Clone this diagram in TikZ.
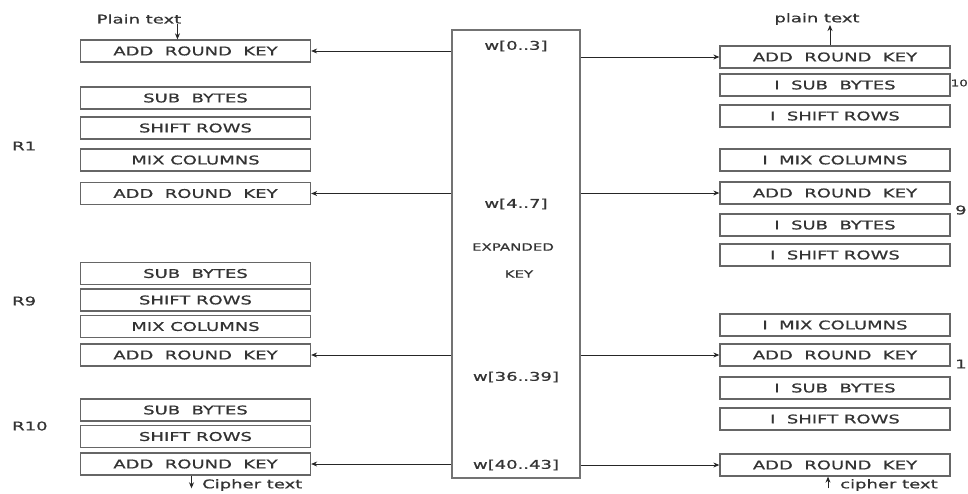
\documentclass[tikz,border=0pt]{standalone}
\usepackage{fontspec}
\setmainfont{DejaVu Sans}[FakeStretch=1.5, FakeBold=0.8]
\usetikzlibrary{arrows.meta, positioning}

\begin{document}
\begin{tikzpicture}[x=1pt, y=-1pt,
  stage/.style={draw=black!60, line width=1.3pt, rectangle, minimum width=230pt, minimum height=22pt, inner sep=0pt, font=\fontsize{12}{12}\selectfont, text=black!80},
  keybox/.style={draw=black!55, line width=1.6pt, rectangle, minimum width=128pt, minimum height=448pt, inner sep=0pt},
  lbl/.style={inner sep=0pt, font=\fontsize{12}{12}\selectfont, text=black!80},
  small/.style={inner sep=0pt, font=\fontsize{10}{10}\selectfont, text=black!80},
  arr/.style={-{Stealth[length=6pt, width=5pt]}, black!85, line width=0.9pt}
]
\useasboundingbox (0,0) rectangle (968,493);

% Expanded key
\node[keybox] (key) at (516, 254) {};
\node[lbl] (w0) at (516, 46) {w[0..3]};
\node[lbl] (w4) at (516, 204) {w[4..7]};
\node[small] (exp) at (513, 247) {EXPANDED};
\node[small] (kk) at (519, 274) {KEY};
\node[lbl] (w36) at (516, 377) {w[36..39]};
\node[lbl] (w40) at (516, 465) {w[40..43]};

% Encryption
\node[stage] (l1) at (195.5, 51) {ADD~ ROUND~ KEY};
\node[stage] (l2) at (195.5, 98) {SUB~ BYTES};
\node[stage] (l3) at (195.5, 128) {SHIFT ROWS};
\node[stage] (l4) at (195.5, 160) {MIX COLUMNS};
\node[stage] (l5) at (195.5, 193.5) {ADD~ ROUND~ KEY};
\node[stage] (l6) at (195.5, 273.5) {SUB~ BYTES};
\node[stage] (l7) at (195.5, 300) {SHIFT ROWS};
\node[stage] (l8) at (195.5, 326.5) {MIX COLUMNS};
\node[stage] (l9) at (195.5, 355) {ADD~ ROUND~ KEY};
\node[stage] (l10) at (195.5, 410) {SUB~ BYTES};
\node[stage] (l11) at (195.5, 436.5) {SHIFT ROWS};
\node[stage] (l12) at (195.5, 464) {ADD~ ROUND~ KEY};

\node[lbl, anchor=west] (r1) at (12, 146) {R1};
\node[lbl, anchor=west] (r9) at (12, 301) {R9};
\node[lbl, anchor=west] (r10) at (12, 426) {R10};

\node[lbl] (pt) at (139, 19) {Plain text};
\node[lbl, anchor=west] (ct) at (202, 485) {Cipher text};

% Decryption
\node[stage] (d1) at (835, 57) {ADD~ ROUND~ KEY};
\node[stage] (d2) at (835, 85) {I~ SUB~ BYTES};
\node[stage] (d3) at (835, 116) {I~ SHIFT ROWS};
\node[stage] (d4) at (835, 160) {I~ MIX COLUMNS};
\node[stage] (d5) at (835, 193) {ADD~ ROUND~ KEY};
\node[stage] (d6) at (835, 225) {I~ SUB~ BYTES};
\node[stage] (d7) at (835, 255) {I~ SHIFT ROWS};
\node[stage] (d8) at (835, 325) {I~ MIX COLUMNS};
\node[stage] (d9) at (835, 355) {ADD~ ROUND~ KEY};
\node[stage] (d10) at (835, 388) {I~ SUB~ BYTES};
\node[stage] (d11) at (835, 419) {I~ SHIFT ROWS};
\node[stage] (d12) at (835, 465) {ADD~ ROUND~ KEY};

\node[small, font=\fontsize{9}{9}\selectfont, anchor=west] (n10) at (950.5, 83) {10};
\node[lbl, anchor=west] (n9) at (955, 210) {9};
\node[lbl, anchor=west] (n1) at (955, 364) {1};

\node[lbl] (ptr) at (817, 19) {plain text};
\node[lbl, anchor=west] (ctr) at (840, 485) {cipher text};

% Arrows
\draw[arr] (key.west |- l1) -- (l1.east);
\draw[arr] (key.west |- l5) -- (l5.east);
\draw[arr] (key.west |- l9) -- (l9.east);
\draw[arr] (key.west |- l12) -- (l12.east);
\draw[arr] (key.east |- d1) -- (d1.west);
\draw[arr] (key.east |- d5) -- (d5.west);
\draw[arr] (key.east |- d9) -- (d9.west);
\draw[arr] (key.east |- d12) -- (d12.west);

\draw[arr] ([xshift=-4pt]pt.south east) -- ([xshift=-4pt]pt.south east |- l1.north);
\draw[arr] ([xshift=-4pt]l12.south) -- ([xshift=-4pt]l12.south |- ct.base);
\draw[arr] ([xshift=-5pt]d1.north) -- ([xshift=-5pt]d1.north |- ptr.south);
\draw[arr] ([xshift=-7pt]d12.south |- ctr.base) -- ([xshift=-7pt]d12.south);

\end{tikzpicture}
\end{document}
